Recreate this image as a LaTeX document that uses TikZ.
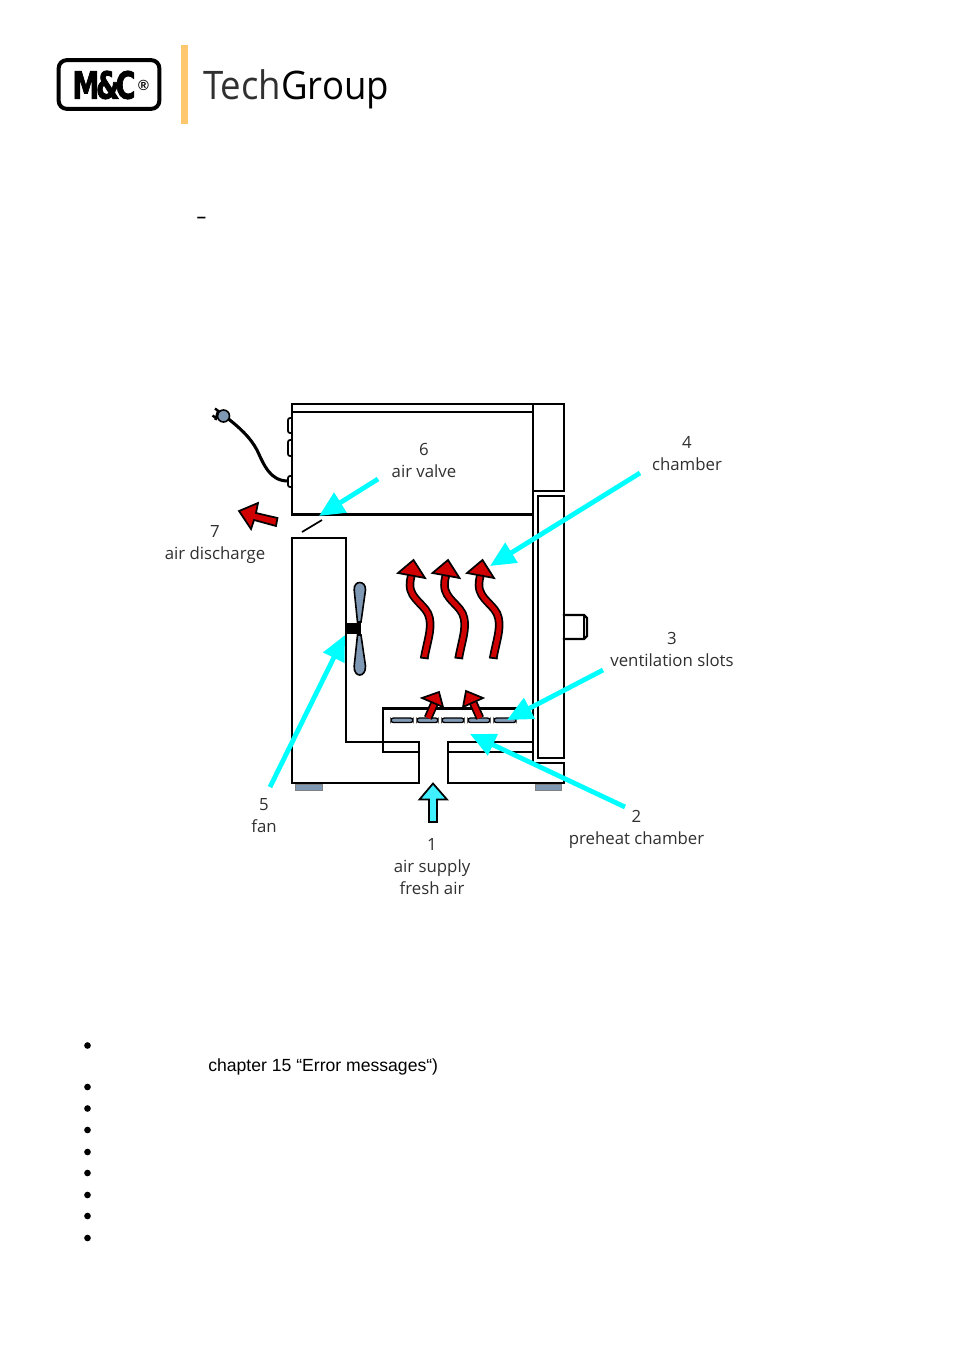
\documentclass[tikz,border=0pt]{standalone}
\usepackage{fontspec}
\setmainfont{Liberation Sans}
\newfontfamily\labelfont{Open Sans}
\newfontfamily\logofont[FakeBold=2.5]{DejaVu Sans Bold}
\usetikzlibrary{arrows.meta}
\definecolor{cy}{HTML}{00FFFF}
\definecolor{cyb}{HTML}{40F0FF}
\definecolor{rd}{HTML}{D00000}
\definecolor{gb}{HTML}{7F98B4}
\definecolor{og}{HTML}{FFC76E}
\definecolor{lbl}{HTML}{303030}
\tikzset{
 wall/.style={draw=black,line width=1.8pt,line cap=rect,line join=miter},
 thinwall/.style={draw=black,line width=1.3pt},
 lab/.style={font=\labelfont\fontsize{12.6pt}{16.5pt}\selectfont,text=lbl,align=center,inner sep=0pt},
 pointer/.style={draw=cy,line width=3.6pt,-{Triangle[length=19pt,width=17pt]}},
 slot/.style={draw=black,line width=1pt,fill=gb,rounded corners=1.8pt},
 foot/.style={draw=black!50,line width=.5pt,fill=gb},
 redhead/.style={draw=black,line width=1.3pt,fill=rd,line join=miter},
 redshaft/.style={draw=black,line width=1.3pt,double=rd,double distance=3.8pt},
 plain/.style={font=\fontsize{13.2pt}{15pt}\selectfont,inner sep=0pt,text=black},
}
\begin{document}
\begin{tikzpicture}[x=.75pt,y=-.75pt]
\useasboundingbox[fill=white] (0,0) rectangle (954,1350);
% logo
\node[draw=black,line width=3pt,rounded corners=6pt,minimum width=75.5pt,minimum height=36.5pt,inner sep=0pt] (logobox) at (109,84.5) {};
\node[inner sep=0pt] (logotext) at (104,85) {\logofont\fontsize{28pt}{28pt}\selectfont\scalebox{.72}[1]{M\kern-.12em\&\kern-.14em C}};
\node[inner sep=0pt] (logoreg) at (143.5,85) {\bfseries\fontsize{11pt}{11pt}\selectfont ®};
\fill[og] (181,45) rectangle (187.5,124);
\node[anchor=base west,inner sep=0pt,text=black] (tech) at (203,99) {\labelfont\fontsize{29.5pt}{30pt}\selectfont\scalebox{.93}[1]{\color{lbl}Tech\color{black}Group}};
\node[plain,font=\bfseries\fontsize{12.4pt}{15pt}\selectfont] (dash) at (201.5,220) {–};
% cabinet
\draw[wall] (292,514.5) -- (292,404) -- (564,404) -- (564,491) -- (533,491);
\draw[wall] (292,412) -- (533,412);
\draw[wall] (533,404) -- (533,763);
\draw[wall] (292,514.5) -- (533,514.5);
\draw[wall] (538,496) rectangle (564,758);
\draw[wall] (346,538) -- (292,538) -- (292,783) -- (419,783) -- (419,742) -- (346,742) -- cycle;
\draw[thinwall] (383,742) -- (383,752) -- (419,752);
\draw[thinwall] (383,742) -- (383,708.5);
\draw[wall] (383,708.5) -- (533,708.5);
\draw[wall] (533,742) -- (448,742) -- (448,783) -- (564,783) -- (564,763) -- (533,763);
\draw[wall] (448,752) -- (533,752);
\draw[foot] (295.5,784) rectangle (322,790);
\draw[foot] (535,784) rectangle (561.5,790);
% knob
\draw[wall] (564,615) -- (584,615) -- (587,618) -- (587,636) -- (584,639) -- (564,639);
\draw[thinwall] (584,615) -- (584,639);
% sockets and cord
\draw[thinwall,rounded corners=1.5pt] (292,418) -- (288,418) -- (288,433) -- (292,433);
\draw[thinwall,rounded corners=1.5pt] (292,440) -- (288,440) -- (288,456) -- (292,456);
\draw[thinwall,rounded corners=1.5pt] (292,476) -- (288,476) -- (288,487) -- (292,487);
\coordinate (cordend) at (288,481);
\coordinate (plugpt) at (226,417);
\draw[black,line width=2.3pt] (cordend) .. controls (270,481) and (264,465) .. (257,450) .. controls (250,437) and (240,428) .. (plugpt);
\node[circle,draw=black,line width=1.2pt,fill=gb,minimum size=9pt,inner sep=0pt] (plug) at (223.5,416) {};
\draw[black,line width=1.8pt] (219,411.5) -- (215,408.5);
\draw[black,line width=1.8pt] (216,418) -- (212.5,415.5);
\draw[black,line width=2pt] (218.5,410) -- (215.5,420);
% valve flap
\coordinate (flapa) at (302,532);
\coordinate (flapb) at (322,520);
\draw[black,line width=1.3pt] (flapa) -- (flapb);
% fan
\draw[draw=black,fill=gb,line width=1.2pt] (357.5,622) -- (354.2,590) .. controls (353.5,580) and (366,580) .. (365.5,590) -- (361,622) -- cycle;
\draw[draw=black,fill=gb,line width=1.2pt] (357.5,635) -- (354.2,666) .. controls (353.5,678) and (366,678) .. (365.5,666) -- (361,635) -- cycle;
\fill[black] (346,623) rectangle (361,634);
% slots
\foreach \xa/\xb in {391/413,417/438,442/464,468/490,494/516}
  \draw[slot] (\xa,718) rectangle (\xb,722.5);
% small red arrows
\draw[redshaft] (428,718) -- (436,700);
\draw[redhead] (439,692) -- (422,698) -- (443,707) -- cycle;
\draw[redshaft] (480,718) -- (472,700);
\draw[redhead] (466,691) -- (483,698) -- (463,707) -- cycle;
% wavy red arrows
\foreach \dx in {0,34.5,69}{
 \begin{scope}[xshift=\dx*.75pt]
  \draw[redshaft] (424.3,658) .. controls (427,642) and (432,630) .. (429.5,618) .. controls (427,605) and (410,600) .. (410,585) .. controls (410,580) and (411,577) .. (412,573);
  \draw[black,line width=1.3pt] (420,657.5) -- (428.6,658.6);
  \draw[redhead] (413.5,560) -- (398,573) -- (425,578) -- cycle;
 \end{scope}}
% discharge arrow
\draw[draw=black,line width=1.3pt,fill=rd] (239,511) -- (258,503) -- (256,513) -- (277.5,518) -- (276,526) -- (254,520) -- (251,529) -- cycle;
% air supply arrow
\draw[draw=black,line width=1.3pt,fill=cyb,line join=miter] (433,783.5) -- (447,799.5) -- (437,799.5) -- (437,822) -- (429,822) -- (429,799.5) -- (419.5,799.5) -- cycle;
% labels
\node[lab] (l6) at (424,460.5) {6\\air valve};
\node[lab] (l4) at (687,454) {4\\chamber};
\node[lab] (l3) at (672,649.5) {3\\ventilation slots};
\node[lab] (l2) at (636.5,829) {2\\preheat chamber};
\node[lab] (l1) at (432,866.5) {1\\air supply\\fresh air};
\node[lab] (l5) at (264,816) {5\\fan};
\node[lab] (l7) at (215,544.5) {7\\air discharge};
% pointers
\coordinate (s6) at (378,479); \coordinate (t6) at (319,516);
\coordinate (s4) at (640,473); \coordinate (t4) at (490,566);
\coordinate (s3) at (603,670); \coordinate (t3) at (507,720);
\coordinate (s2) at (625,807); \coordinate (t2) at (470,734);
\coordinate (s5) at (270,787); \coordinate (t5) at (345,635);
\draw[pointer] (s6) -- (t6);
\draw[pointer] (s4) -- (t4);
\draw[pointer] (s3) -- (t3);
\draw[pointer] (s2) -- (t2);
\draw[pointer] (s5) -- (t5);
% text below
\foreach \n/\y in {a/1045.5,b/1087,c/1108.5,d/1130,e/1152,f/1173,g/1195,h/1216,i/1238}
  \fill[black] (87.5,\y) circle (2.5pt) coordinate (bul\n);
\node[plain,anchor=base west] (chap) at (208,1071) {chapter 15 “Error messages“)};
\end{tikzpicture}
\end{document}
